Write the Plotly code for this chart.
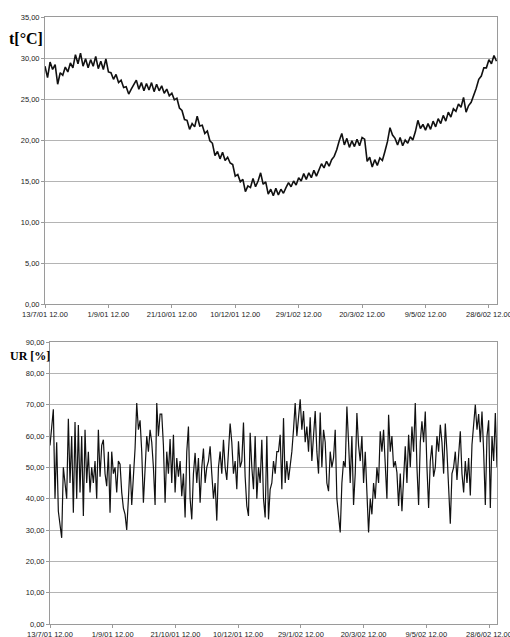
import pandas as pd
import plotly.graph_objects as go

# ---------------- data ----------------
start_date = "2001-07-13 12:00"
end_date = "2002-07-04 21:00"

# temperature [°C], one reading every 2 days from 13/7/01 12.00
temperature = [
    29.0, 27.6, 29.5, 28.6, 29.2, 26.8, 28.2, 27.9, 28.9, 28.3,
    29.4, 28.8, 30.4, 29.3, 30.6, 29.0, 29.9, 28.8, 29.8, 29.0,
    30.2, 28.7, 29.6, 28.6, 29.9, 28.3, 28.2, 27.4, 28.0, 27.0,
    27.3, 26.4, 26.5, 25.6, 26.2, 26.8, 27.3, 26.2, 27.0, 26.0,
    26.9, 26.1, 27.0, 25.9, 26.8, 26.0, 26.6, 25.7, 26.2, 25.4,
    25.7, 24.9, 25.1, 23.9, 23.6, 22.5, 22.4, 21.3, 22.0, 21.6,
    22.9, 21.7, 21.8, 20.8, 21.1, 19.9, 19.6, 18.1, 18.6, 17.7,
    18.5, 17.5, 17.9, 17.2, 17.0, 15.6, 15.8, 14.9, 15.2, 13.7,
    14.4, 14.2, 15.3, 14.3, 15.0, 16.0, 14.6, 14.9, 13.4, 14.0,
    13.2, 14.1, 13.3, 14.0, 13.5, 14.2, 14.8, 14.3, 15.0, 14.5,
    15.4, 15.0, 15.9, 15.2, 16.0, 15.4, 16.3, 15.6, 16.4, 17.1,
    16.6, 17.4, 16.8, 17.6, 18.0, 18.8, 19.9, 20.8, 19.4, 20.2,
    19.1, 19.9, 19.2, 20.1, 19.3, 20.3, 20.1, 17.4, 17.9, 16.7,
    17.6, 16.9, 17.8, 17.5, 18.6, 19.8, 21.5, 20.6, 20.2, 19.4,
    20.3, 19.3, 20.0, 19.6, 20.4, 20.0, 21.0, 22.4, 21.4, 21.9,
    21.2, 22.0, 21.3, 22.3, 21.6, 22.6, 22.0, 23.0, 22.3, 23.4,
    22.8, 23.8, 23.5, 24.4, 24.0, 25.2, 23.4, 24.2, 24.6, 25.4,
    26.3, 27.4, 27.8, 28.8, 28.8, 29.8, 29.3, 30.3, 29.6,
]

# relative humidity [%], evenly spaced readings over the same period
humidity = [
    57, 62, 68.5, 40, 58, 36, 31, 27.5, 50, 44, 40, 65.5, 45, 60, 35.5, 64.5,
    40, 63.5, 42, 60, 34.5, 62, 45, 55, 42, 50, 45, 52, 40, 62, 47, 57, 58.8,
    48, 44, 55, 35.5, 55, 48, 50, 42, 52, 51, 42, 37, 35, 30, 40, 51, 38, 47,
    56, 70.5, 62, 65, 55, 38.7, 50, 60, 55, 62, 58, 50, 38, 70.5, 60, 67,
    67, 57, 38.7, 55, 48, 59, 45, 60.4, 42, 53, 47, 52, 40.8, 48, 34, 55, 63,
    40, 33.4, 48, 54.6, 45, 53, 38.7, 50, 56, 45, 50, 52, 56.7, 48, 40, 45,
    33, 50, 55, 48, 58.8, 50, 46, 55, 64, 58, 48, 52, 43, 58.3, 50, 52, 64.3,
    47, 37.7, 34.5, 61, 50, 43, 60, 40, 50, 45, 58.8, 40, 34, 60, 33.4, 43,
    45, 52, 48, 55,
    55, 60.4, 43, 65.7, 45, 52, 46, 50, 55, 62, 70.5, 60, 65, 71.7, 62, 68,
    58, 63, 55, 66, 52, 60, 68, 55, 48, 67.5, 50, 62, 58, 45, 42.4, 55, 50,
    53, 62, 40, 34.5, 29.2, 45, 52, 50, 69.4, 58, 45, 60, 38, 48, 67.3, 57,
    52, 60, 45, 55, 42, 29.2, 40, 35, 45, 40, 50, 45, 61.5, 55, 62, 50, 40,
    66.8, 55, 60, 50,
    52, 48.3, 37.7, 48, 36, 47, 56.7, 45, 60.4, 50, 63, 55, 70.5, 50, 38, 58,
    64.7, 58, 67.8, 50, 37, 52, 57, 47, 50, 60, 55, 63.6, 58, 48, 64, 55, 45,
    32, 48, 50, 55, 46, 54, 61.5, 48, 42, 52, 45, 53, 41, 57.2, 62.5, 70, 62,
    67, 58, 67.8, 55, 38, 60, 65, 37, 60, 52, 67.3, 50,
]

tick_dates = ["2001-07-13 12:00", "2001-09-01 12:00", "2001-10-21 12:00",
              "2001-12-10 12:00", "2002-01-29 12:00", "2002-03-20 12:00",
              "2002-05-09 12:00", "2002-06-28 12:00"]
tick_labels = ["13/7/01 12.00", "1/9/01 12.00", "21/10/01 12.00",
               "10/12/01 12.00", "29/1/02 12.00", "20/3/02 12.00",
               "9/5/02 12.00", "28/6/02 12.00"]

t_dates = pd.date_range(start_date, periods=len(temperature), freq="2D")
h_dates = pd.date_range(start_date, end_date, periods=len(humidity))

# ---------------- figure ----------------
W, H = 510, 637
fig = go.Figure()
fig.add_trace(go.Scatter(x=t_dates, y=temperature, mode="lines",
                         line=dict(color="#111111", width=1.6),
                         xaxis="x", yaxis="y", showlegend=False))
fig.add_trace(go.Scatter(x=h_dates, y=humidity, mode="lines",
                         line=dict(color="#111111", width=1.2),
                         xaxis="x2", yaxis="y2", showlegend=False))

tick_font = dict(family="Liberation Sans, Arial, sans-serif", size=7.5, color="#222222")
xcommon = dict(type="date", range=[start_date, end_date],
               tickvals=tick_dates, ticktext=tick_labels, tickangle=0,
               showgrid=False, showline=True, linecolor="#9a9a9a", linewidth=1,
               mirror=True, ticks="outside", ticklen=3, tickcolor="#9a9a9a",
               tickfont=tick_font, zeroline=False, automargin=False,
               ticklabeloverflow="allow")
ycommon = dict(showgrid=True, gridcolor="#b4b4b4", gridwidth=1,
               showline=True, linecolor="#9a9a9a", linewidth=1, mirror=True,
               ticks="outside", ticklen=3, tickcolor="#9a9a9a",
               tickfont=tick_font, tickformat=".2f", zeroline=False,
               automargin=False)

fig.update_layout(
    template="none",
    width=W, height=H,
    margin=dict(l=0, r=0, t=0, b=0, pad=0),
    paper_bgcolor="white", plot_bgcolor="white",
    separators=",.",
    showlegend=False,
    xaxis=dict(domain=[45 / W, 497 / W], anchor="y", **xcommon),
    yaxis=dict(domain=[1 - 304 / H, 1 - 17 / H], anchor="x",
               range=[0, 35], dtick=5, **ycommon),
    xaxis2=dict(domain=[50 / W, 497 / W], anchor="y2", **xcommon),
    yaxis2=dict(domain=[1 - 624 / H, 1 - 342 / H], anchor="x2",
                range=[0, 90], dtick=10, **ycommon),
    annotations=[
        dict(text="<b>t[°C]</b>", x=26 / W, y=1 - 39 / H, xref="paper", yref="paper",
             showarrow=False, xanchor="center", yanchor="middle",
             font=dict(family="Liberation Serif, Times New Roman, serif", size=16, color="black")),
        dict(text="<b>UR [%]</b>", x=30 / W, y=1 - 356 / H, xref="paper", yref="paper",
             showarrow=False, xanchor="center", yanchor="middle",
             font=dict(family="Liberation Serif, Times New Roman, serif", size=12, color="black")),
    ],
)

# remove the browser's default page margin so the figure sits at the window's corner
fig.write_html("out.html",
               config={"displayModeBar": False},
               post_script="document.body.style.margin='0';document.body.style.overflow='hidden';")
